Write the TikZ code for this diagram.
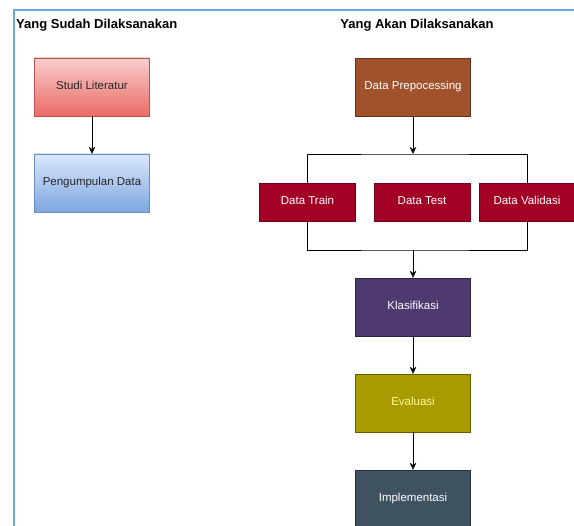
\documentclass[tikz,border=0pt]{standalone}
\usepackage{fontspec}
\setmainfont{Liberation Sans}
\usetikzlibrary{positioning}
\usetikzlibrary{arrows.meta}

\definecolor{frameblue}{HTML}{6BA7E6}
\definecolor{studitop}{HTML}{F8CECC}
\definecolor{studibot}{HTML}{EA6B66}
\definecolor{studiline}{HTML}{B85450}
\definecolor{kumpultop}{HTML}{DAE8FC}
\definecolor{kumpulbot}{HTML}{7EA6E0}
\definecolor{kumpulline}{HTML}{6C8EBF}
\definecolor{prepbrown}{HTML}{A0522D}
\definecolor{databred}{HTML}{A20025}
\definecolor{klaspurple}{HTML}{4E3A6E}
\definecolor{evalolive}{HTML}{A79B00}
\definecolor{implslate}{HTML}{3F5260}

\begin{document}
\begin{tikzpicture}[x=1pt,y=-1pt,
  box/.style={rectangle,draw,minimum width=115pt,minimum height=58pt,inner sep=0pt,
    text height=8.5pt,text depth=2.5pt,font=\fontsize{11.5}{13}\selectfont},
  databox/.style={rectangle,draw=databred!70!black,fill=databred,text=white,
    minimum width=96pt,minimum height=38pt,inner sep=0pt,
    text height=8.5pt,text depth=2.5pt,font=\fontsize{11.5}{13}\selectfont},
  arr/.style={-{Stealth[length=7pt,width=6.5pt]},black,thin}]
\useasboundingbox (0,0) rectangle (574,526);
\draw[frameblue,line width=2pt] (13.5,526) -- (13.5,10) -- (574,10);

\node[font=\bfseries\fontsize{13}{15}\selectfont,anchor=west,inner sep=0pt] (done) at (16,25) {Yang Sudah Dilaksanakan};
\node[font=\bfseries\fontsize{13}{15}\selectfont] (todo) at (417,25) {Yang Akan Dilaksanakan};

\node[box,draw=studiline,top color=studitop,bottom color=studibot,text=black!85] (studi) at (92,87) {Studi Literatur};
\node[box,draw=kumpulline,top color=kumpultop,bottom color=kumpulbot,text=black!85] (kumpul) at (92,183) {Pengumpulan Data};
\draw[arr] (studi) -- (kumpul);

\node[box,draw=prepbrown!60!black,fill=prepbrown,text=white] (prep) at (413,87) {Data Prepocessing};
\node[databox] (train) at (307.5,202) {Data Train};
\node[databox] (test) at (422,202) {Data Test};
\node[databox] (val) at (527,202) {Data Validasi};
\coordinate (split) at (413,154);
\coordinate (merge) at (413,250);
\draw[arr] (prep) -- (split);
\draw (train.north) |- (split) -| (val.north);
\draw (train.south) |- (merge) -| (val.south);

\node[box,draw=klaspurple!60!black,fill=klaspurple,text=white] (klas) at (413,307) {Klasifikasi};
\node[box,draw=evalolive!60!black,fill=evalolive,text=yellow!40!white] (eval) at (413,403) {Evaluasi};
\node[box,draw=implslate!60!black,fill=implslate,text=white] (impl) at (413,499) {Implementasi};
\draw[arr] (merge) -- (klas);
\draw[arr] (klas) -- (eval);
\draw[arr] (eval) -- (impl);
\end{tikzpicture}
\end{document}
